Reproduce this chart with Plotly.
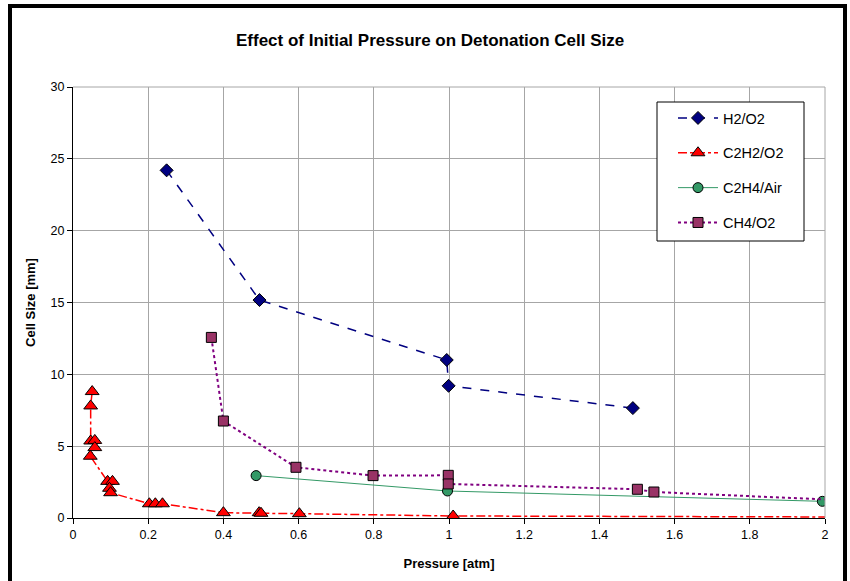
import plotly.graph_objects as go

# ---- data ----
h2_x = [0.249, 0.496, 0.994, 0.999, 1.489]
h2_y = [24.2, 15.17, 11.0, 9.2, 7.65]

c2h2_x = [0.051, 0.047, 0.047, 0.058, 0.058, 0.046, 0.092, 0.105, 0.097, 0.100,
          0.203, 0.219, 0.238, 0.400, 0.495, 0.500, 0.602, 1.011, 2.5]
c2h2_y = [8.8, 7.8, 5.36, 5.4, 4.9, 4.3, 2.55, 2.55, 2.07, 1.76,
          0.99, 0.99, 0.99, 0.37, 0.37, 0.33, 0.30, 0.14, 0.04]

c2h4_x = [0.487, 0.996, 1.993]
c2h4_y = [2.95, 1.88, 1.16]

ch4_x = [0.368, 0.400, 0.593, 0.798, 0.998, 0.998, 1.501, 1.545, 2.1]
ch4_y = [12.57, 6.75, 3.53, 2.95, 2.97, 2.37, 2.00, 1.81, 1.18]

x_ticks = [0, 0.2, 0.4, 0.6, 0.8, 1.0, 1.2, 1.4, 1.6, 1.8, 2.0]
x_tick_labels = ["0", "0.2", "0.4", "0.6", "0.8", "1", "1.2", "1.4", "1.6", "1.8", "2"]
y_ticks = [0, 5, 10, 15, 20, 25, 30]

FONT = "Liberation Sans, Arial, sans-serif"

fig = go.Figure()
fig.add_trace(go.Scatter(
    x=h2_x, y=h2_y, name="H2/O2", mode="lines+markers", legendgroup="a",
    line=dict(color="#000080", width=1.5, dash="dash"),
    marker=dict(symbol="diamond", size=10, color="#000080", line=dict(color="black", width=1))))
fig.add_trace(go.Scatter(
    x=c2h2_x, y=c2h2_y, name="C2H2/O2", mode="lines+markers", legendgroup="b",
    line=dict(color="#ff0000", width=1.5, dash="dashdot"),
    marker=dict(symbol="triangle-up", size=12, color="#ff0000", line=dict(color="black", width=1))))
fig.add_trace(go.Scatter(
    x=c2h4_x, y=c2h4_y, name="C2H4/Air", mode="lines+markers", legendgroup="c",
    line=dict(color="#339966", width=1),
    marker=dict(symbol="circle", size=10, color="#339966", line=dict(color="black", width=1))))
fig.add_trace(go.Scatter(
    x=ch4_x, y=ch4_y, name="CH4/O2", mode="lines+markers", legendgroup="d",
    line=dict(color="#800080", width=2, dash="dot"),
    marker=dict(symbol="square", size=10, color="#993366", line=dict(color="black", width=1))))

L, R, T, B = 73, 25, 87, 63
W, H = 850, 581
pw, ph = W - L - R, H - T - B

def px(xp):
    return (xp - L) / pw

def py(yp):
    return (H - B - yp) / ph

fig.update_layout(
    width=W, height=H,
    margin=dict(l=L, r=R, t=T, b=B),
    paper_bgcolor="white", plot_bgcolor="white",
    font=dict(family=FONT, color="black", size=12),
    title=dict(text="<b>Effect of Initial Pressure on Detonation Cell Size</b>",
               x=0.506, xanchor="center", y=1 - 40 / H, yanchor="middle",
               font=dict(size=17, family=FONT)),
    showlegend=True,
    legend=dict(x=px(673), y=py(102), xanchor="left", yanchor="top",
                borderwidth=0, bgcolor="rgba(0,0,0,0)",
                font=dict(size=14.5, family=FONT), itemwidth=40,
                tracegroupgap=13),
    xaxis=dict(range=[0, 2], tickvals=x_ticks, ticktext=x_tick_labels,
               showgrid=True, gridcolor="#a6a6a6", gridwidth=1,
               showline=True, linecolor="black", linewidth=1,
               ticks="outside", ticklen=5, tickcolor="black",
               zeroline=False, tickfont=dict(size=12.5),
               title=dict(text="<b>Pressure [atm]</b>", font=dict(size=13), standoff=17)),
    yaxis=dict(range=[0, 30], tickvals=y_ticks,
               showgrid=True, gridcolor="#a6a6a6", gridwidth=1,
               showline=True, linecolor="black", linewidth=1,
               ticks="outside", ticklen=5, tickcolor="black",
               zeroline=False, tickfont=dict(size=12.5),
               title=dict(text="<b>Cell Size [mm]</b>", font=dict(size=13), standoff=12)),
    shapes=[
        # top/right plot-area edges in gray
        dict(type="line", xref="paper", yref="paper", x0=0, x1=1, y0=1, y1=1,
             line=dict(color="#a6a6a6", width=1)),
        dict(type="line", xref="paper", yref="paper", x0=1, x1=1, y0=0, y1=1,
             line=dict(color="#a6a6a6", width=1)),
        # legend box
        dict(type="rect", xref="paper", yref="paper",
             x0=px(657), x1=px(804), y0=py(102), y1=py(241),
             line=dict(color="black", width=1), fillcolor="white", layer="above"),
        # outer black frame
        dict(type="rect", xref="paper", yref="paper",
             x0=px(10), x1=px(845), y0=py(6), y1=py(600),
             line=dict(color="black", width=4), fillcolor="rgba(0,0,0,0)", layer="above"),
    ],
)

fig.write_html("out.html", config={"displayModeBar": False},
               post_script="document.body.style.margin='0px';")
